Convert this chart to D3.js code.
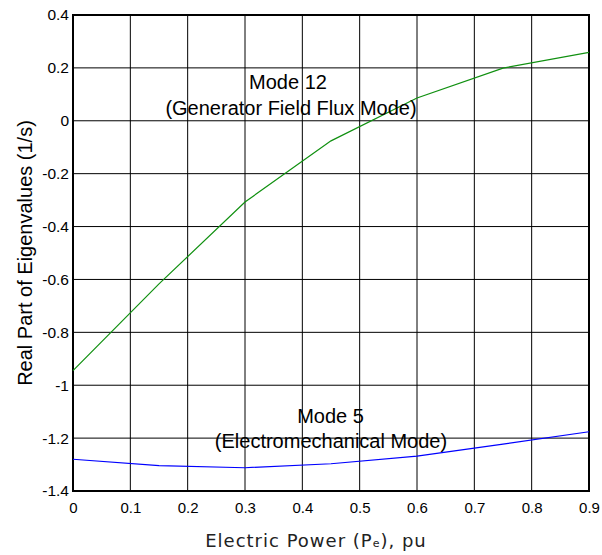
<!DOCTYPE html>
<html><head><meta charset="utf-8">
<script src="https://cdn.jsdelivr.net/npm/d3@7"></script>
<style>body{margin:0;background:#fff;} svg{display:block;}</style>
</head><body>
<svg id="c" width="602" height="555"></svg>
<script>
const power = [0, 0.15, 0.3, 0.45, 0.6, 0.75, 0.9];
const mode12 = [-0.945, -0.617, -0.307, -0.076, 0.086, 0.199, 0.259];
const mode5 = [-1.280, -1.304, -1.312, -1.297, -1.268, -1.223, -1.176];
const xTicks = [0, 0.1, 0.2, 0.3, 0.4, 0.5, 0.6, 0.7, 0.8, 0.9];
const yTicks = [0.4, 0.2, 0, -0.2, -0.4, -0.6, -0.8, -1, -1.2, -1.4];
const xTickLabels = ["0","0.1","0.2","0.3","0.4","0.5","0.6","0.7","0.8","0.9"];
const yTickLabels = ["0.4","0.2","0","-0.2","-0.4","-0.6","-0.8","-1","-1.2","-1.4"];

const svg = d3.select("#c");
const L = 73, R = 589, T = 15, B = 491;
const x = d3.scaleLinear().domain([0, 0.9]).range([L, R]);
const y = d3.scaleLinear().domain([-1.4, 0.4]).range([B, T]);
const font = "'Liberation Sans', Arial, sans-serif";

// grid
svg.append("g").selectAll("line").data(xTicks).join("line")
  .attr("x1", d => x(d)).attr("x2", d => x(d)).attr("y1", T).attr("y2", B)
  .attr("stroke", "#000").attr("stroke-width", 1);
svg.append("g").selectAll("line").data(yTicks).join("line")
  .attr("y1", d => y(d)).attr("y2", d => y(d)).attr("x1", L).attr("x2", R)
  .attr("stroke", "#000").attr("stroke-width", 1);

// axes
const xAxis = d3.axisBottom(x).tickValues(xTicks).tickFormat((d,i) => xTickLabels[i]).tickSize(0).tickPadding(11);
const gx = svg.append("g").attr("transform", `translate(0,${B})`).call(xAxis);
gx.select(".domain").remove();
gx.selectAll("text").attr("font-family", font).attr("font-size", 15).attr("fill", "#000");
const yAxis = d3.axisLeft(y).tickValues(yTicks).tickFormat((d,i) => yTickLabels[i]).tickSize(0).tickPadding(4);
const gy = svg.append("g").attr("transform", `translate(${L},0)`).call(yAxis);
gy.select(".domain").remove();
gy.selectAll("text").attr("font-family", font).attr("font-size", 15.5).attr("fill", "#000");

// frame
svg.append("rect").attr("x", L).attr("y", T).attr("width", R - L).attr("height", B - T)
  .attr("fill", "none").attr("stroke", "#000").attr("stroke-width", 2);

// lines
const line = d3.line().x((d,i) => x(power[i])).y(d => y(d));
svg.append("path").datum(mode12).attr("d", line).attr("fill", "none").attr("stroke", "#109010").attr("stroke-width", 1.2);
svg.append("path").datum(mode5).attr("d", line).attr("fill", "none").attr("stroke", "#0000ff").attr("stroke-width", 1.2);

// annotations
const ann = svg.append("g").attr("font-family", font).attr("font-size", 20).attr("fill", "#000").attr("text-anchor", "middle");
ann.append("text").attr("x", 288).attr("y", 89).text("Mode 12");
ann.append("text").attr("x", 291).attr("y", 115).text("(Generator Field Flux Mode)");
ann.append("text").attr("x", 330.5).attr("y", 423).text("Mode 5");
ann.append("text").attr("x", 331).attr("y", 447.5).text("(Electromechanical Mode)");

// axis labels
const xl = svg.append("text").attr("x", 316).attr("y", 547).attr("text-anchor", "middle")
  .attr("font-family", "'DejaVu Sans', sans-serif").attr("font-size", 18).attr("letter-spacing", 1).attr("fill", "#222");
xl.append("tspan").text("Electric Power (P");
xl.append("tspan").attr("font-size", 11).text("e");
xl.append("tspan").text("), pu");

svg.append("text").attr("transform", `translate(32,253) rotate(-90)`).attr("text-anchor", "middle")
  .attr("font-family", font).attr("font-size", 20).attr("fill", "#000")
  .text("Real Part of Eigenvalues (1/s)");
</script>
</body></html>
